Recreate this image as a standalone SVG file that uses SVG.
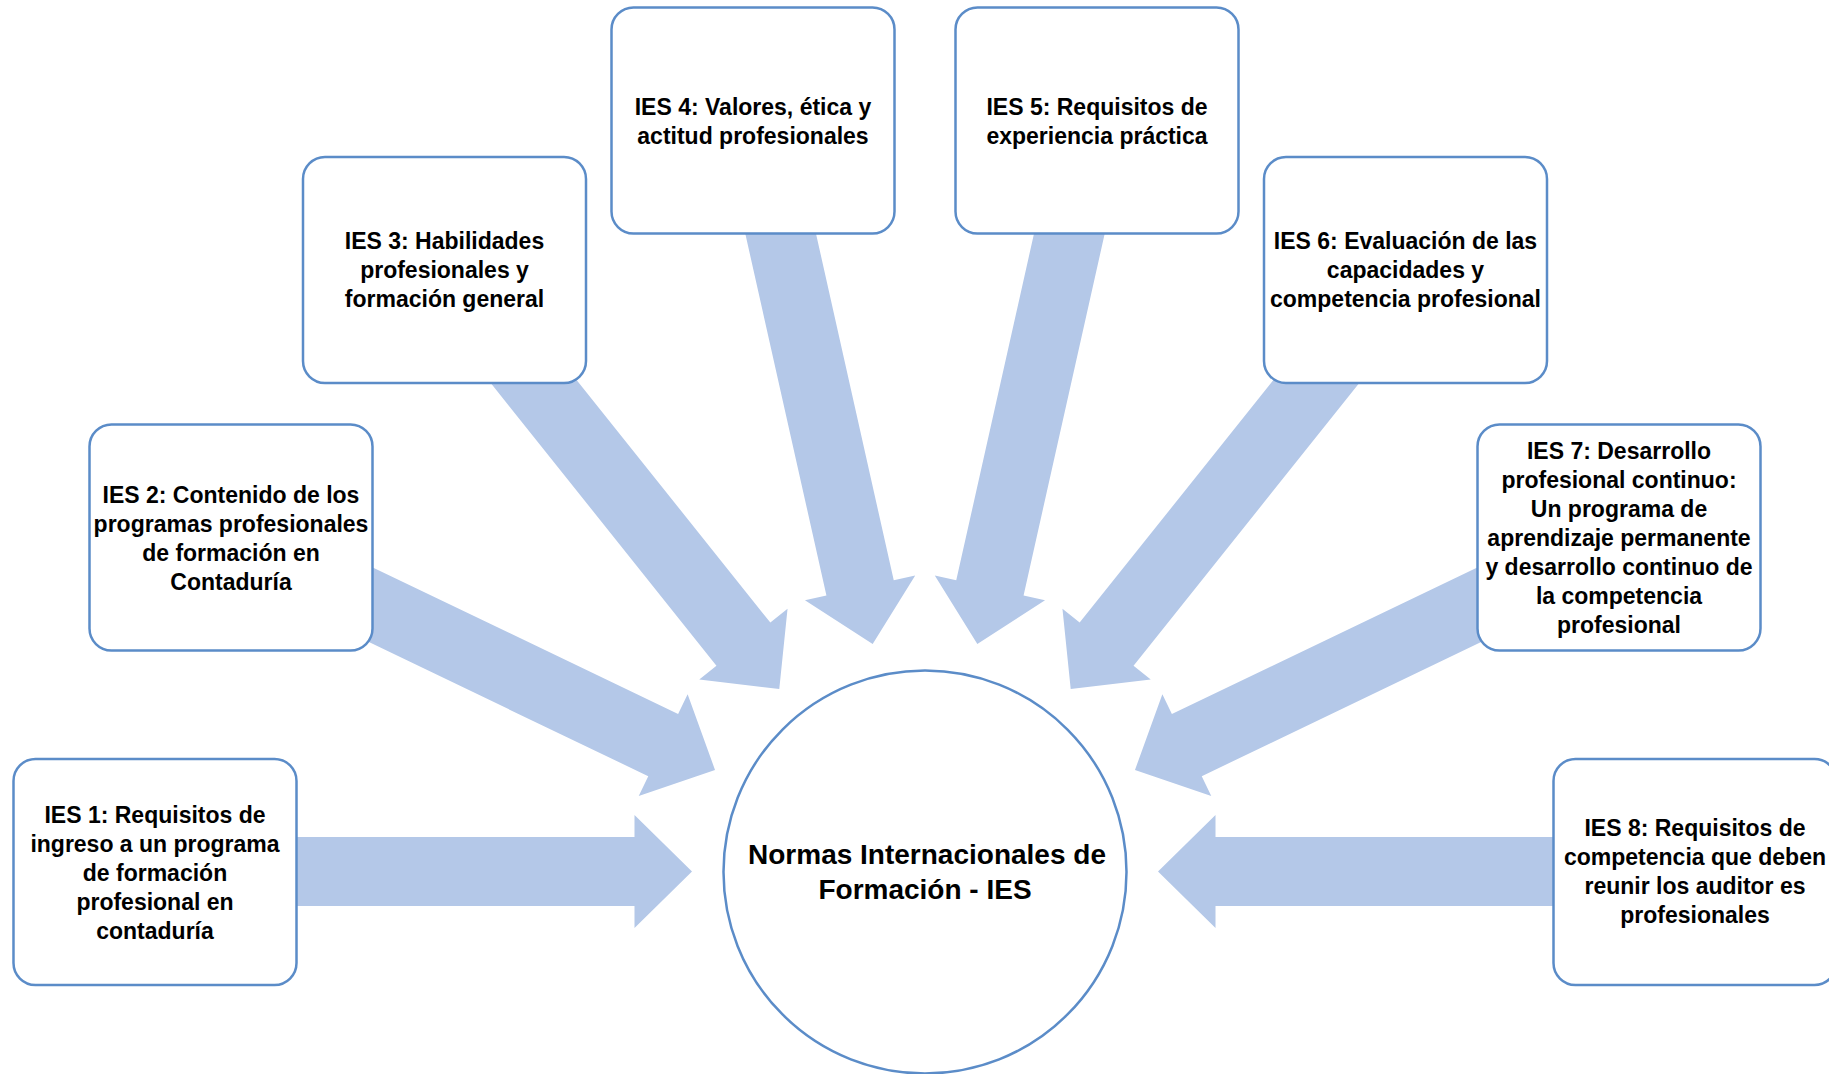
<svg xmlns="http://www.w3.org/2000/svg" width="1829" height="1074" viewBox="0 0 1829 1074">
<style>
.arrow{fill:#B4C8E8;stroke:none}
.box{fill:#FFFFFF;stroke:#5B8CC8;stroke-width:2.5}
.t{font-family:"Liberation Sans",Arial,sans-serif;font-weight:bold;font-size:23px;fill:#000;text-anchor:middle}
.c{font-family:"Liberation Sans",Arial,sans-serif;font-weight:bold;font-size:28px;fill:#000;text-anchor:middle}
</style>
<rect width="1829" height="1074" fill="#FFFFFF"/>
<g id="connectors">
<path class="arrow" transform="translate(296,871.5)" d="M-30,-34.5 H338.5 V-56.5 L396,0 L338.5,56.5 V34.5 H-30 Z"/>
<path class="arrow" transform="translate(372.35,605.5) rotate(25.64)" d="M-30,-34.5 H322.6 V-56.5 L380.1,0 L322.6,56.5 V34.5 H-30 Z"/>
<path class="arrow" transform="translate(534,382) rotate(51.38)" d="M-30,-34.5 H335.5 V-56.5 L393,0 L335.5,56.5 V34.5 H-30 Z"/>
<path class="arrow" transform="translate(780.5,233) rotate(77.36)" d="M-30,-34.5 H363.7 V-56.5 L421.2,0 L363.7,56.5 V34.5 H-30 Z"/>
<path class="arrow" transform="translate(1069.5,233) rotate(102.64)" d="M-30,-34.5 H363.7 V-56.5 L421.2,0 L363.7,56.5 V34.5 H-30 Z"/>
<path class="arrow" transform="translate(1316,382) rotate(128.62)" d="M-30,-34.5 H335.5 V-56.5 L393,0 L335.5,56.5 V34.5 H-30 Z"/>
<path class="arrow" transform="translate(1477.65,605.5) rotate(154.36)" d="M-30,-34.5 H322.6 V-56.5 L380.1,0 L322.6,56.5 V34.5 H-30 Z"/>
<path class="arrow" transform="translate(1554,871.5) rotate(180)" d="M-30,-34.5 H338.5 V-56.5 L396,0 L338.5,56.5 V34.5 H-30 Z"/>
</g>
<g id="center">
<circle class="box" cx="925" cy="872" r="201.5"/>
<text class="c" x="927" y="864">Normas Internacionales de</text>
<text class="c" x="925" y="899">Formación - IES</text>
</g>
<g id="ies1">
<rect class="box" x="13.5" y="759" width="283" height="226" rx="22"/>
<text class="t" x="155" y="823">IES 1: Requisitos de</text>
<text class="t" x="155" y="852">ingreso a un programa</text>
<text class="t" x="155" y="881">de formación</text>
<text class="t" x="155" y="910">profesional en</text>
<text class="t" x="155" y="939">contaduría</text>
</g>
<g id="ies2">
<rect class="box" x="89.5" y="424.5" width="283" height="226" rx="22"/>
<text class="t" x="231" y="503">IES 2: Contenido de los</text>
<text class="t" x="231" y="532">programas profesionales</text>
<text class="t" x="231" y="561">de formación en</text>
<text class="t" x="231" y="590">Contaduría</text>
</g>
<g id="ies3">
<rect class="box" x="303" y="157" width="283" height="226" rx="22"/>
<text class="t" x="444.5" y="249">IES 3: Habilidades</text>
<text class="t" x="444.5" y="278">profesionales y</text>
<text class="t" x="444.5" y="307">formación general</text>
</g>
<g id="ies4">
<rect class="box" x="611.5" y="7.5" width="283" height="226" rx="22"/>
<text class="t" x="753" y="115">IES 4: Valores, ética y</text>
<text class="t" x="753" y="144">actitud profesionales</text>
</g>
<g id="ies5">
<rect class="box" x="955.5" y="7.5" width="283" height="226" rx="22"/>
<text class="t" x="1097" y="115">IES 5: Requisitos de</text>
<text class="t" x="1097" y="144">experiencia práctica</text>
</g>
<g id="ies6">
<rect class="box" x="1264" y="157" width="283" height="226" rx="22"/>
<text class="t" x="1405.5" y="249">IES 6: Evaluación de las</text>
<text class="t" x="1405.5" y="278">capacidades y</text>
<text class="t" x="1405.5" y="307">competencia profesional</text>
</g>
<g id="ies7">
<rect class="box" x="1477.5" y="424.5" width="283" height="226" rx="22"/>
<text class="t" x="1619" y="459">IES 7: Desarrollo</text>
<text class="t" x="1619" y="488">profesional continuo:</text>
<text class="t" x="1619" y="517">Un programa de</text>
<text class="t" x="1619" y="546">aprendizaje permanente</text>
<text class="t" x="1619" y="575">y desarrollo continuo de</text>
<text class="t" x="1619" y="604">la competencia</text>
<text class="t" x="1619" y="633">profesional</text>
</g>
<g id="ies8">
<rect class="box" x="1553.5" y="759" width="283" height="226" rx="22"/>
<text class="t" x="1695" y="836">IES 8: Requisitos de</text>
<text class="t" x="1695" y="865">competencia que deben</text>
<text class="t" x="1695" y="894">reunir los auditor es</text>
<text class="t" x="1695" y="923">profesionales</text>
</g>
</svg>
